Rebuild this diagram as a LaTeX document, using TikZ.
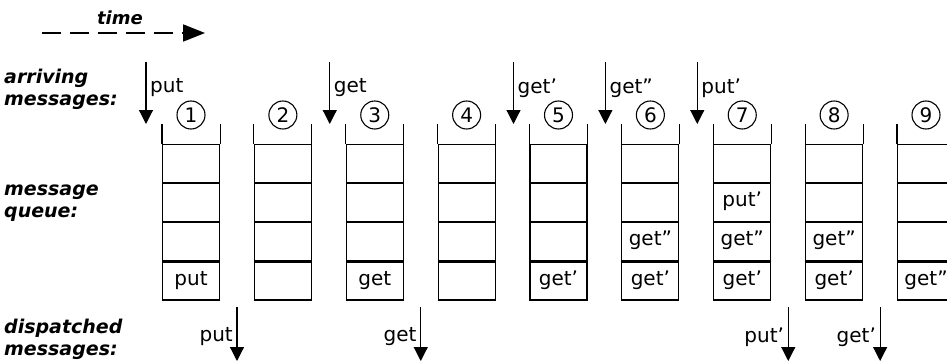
\documentclass[tikz,border=0pt]{standalone}
\usepackage{fontspec}
\setmainfont{DejaVu Sans}
\usetikzlibrary{arrows.meta,positioning}
\tikzset{
  cell/.style={draw,line width=1.1pt,minimum width=57pt,minimum height=38pt,inner sep=0pt,
    text height=12pt,text depth=4pt,font=\fontsize{20}{22}\selectfont},
  num/.style={draw,circle,line width=1.1pt,minimum size=28pt,inner sep=0pt,font=\fontsize{20}{22}\selectfont},
  side/.style={line width=1.1pt},
  msg/.style={-{Triangle[length=14pt,width=14pt]},line width=1.2pt},
  lbl/.style={inner sep=0pt,font=\fontsize{20}{22}\selectfont},
  rowlbl/.style={align=left,anchor=west,inner sep=0pt,font=\fontsize{19}{22}\selectfont\bfseries\itshape},
}
\begin{document}
\begin{tikzpicture}[x=1pt,y=-1pt]
\useasboundingbox (0,0) rectangle (947,361);
\clip (0,0) rectangle (947,361);
% time axis
\coordinate (t0) at (42,33);
\coordinate (t1) at (205,33);
\draw[line width=1.8pt,dash pattern=on 19pt off 9pt,-{Triangle[length=22pt,width=17pt]}] (t0) -- (t1);
\node[lbl,font=\fontsize{18}{20}\selectfont\bfseries\itshape] (timelbl) at (120,18) {time};
% row labels
\node[rowlbl] (arrlbl) at (4,89) {arriving\\messages:};
\node[rowlbl] (qlbl) at (4,203) {message\\queue:};
\node[rowlbl] (displbl) at (4,339) {dispatched\\messages:};
% queues
\foreach \i/\a/\b/\c in {1/put//,2///,3/get//,4///,5/get’//,6/get’/get”/,7/get’/get”/put’,8/get’/get”/,9/get”//}
{
  \pgfmathsetmacro{\x}{191+(\i-1)*91.875}
  \node[cell] (q\i-1) at (\x,281) {\a};
  \node[cell,above=0pt of q\i-1] (q\i-2) {\b};
  \node[cell,above=0pt of q\i-2] (q\i-3) {\c};
  \node[cell,above=0pt of q\i-3] (q\i-4) {};
  \draw[side] (q\i-4.north west) -- ++(0,-20);
  \draw[side] (q\i-4.north east) -- ++(0,-20);
  \node[num] (n\i) at (\x,115) {\i};
}
% arriving messages
\foreach \i/\m in {1/put,3/get,5/get’,6/get”,7/put’}
{
  \pgfmathsetmacro{\x}{191+(\i-1)*91.875-45}
  \coordinate (in\i) at (\x,62);
  \coordinate (in\i-end) at (\x,124);
  \draw[msg] (in\i) -- (in\i-end);
  \node[lbl,anchor=west] (inlbl\i) at (\x+4,88) {\m};
}
% dispatched messages
\foreach \i/\m in {1/put,3/get,7/put’,8/get’}
{
  \pgfmathsetmacro{\x}{191+(\i-1)*91.875+46}
  \coordinate (out\i) at (\x,307);
  \coordinate (out\i-end) at (\x,361);
  \draw[msg] (out\i) -- (out\i-end);
  \node[lbl,anchor=east] (outlbl\i) at (\x-4,337) {\m};
}
\end{tikzpicture}
\end{document}
